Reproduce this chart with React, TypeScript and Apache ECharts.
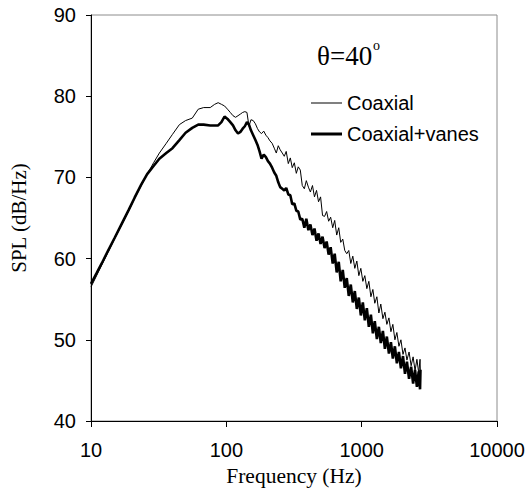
import React, { useEffect, useRef } from "react";
import * as echarts from "echarts";

const freq = [
  10, 11, 12, 13.3, 15, 17, 19, 21, 23.5, 26,
  29, 32, 36, 40, 45, 50, 56, 62, 68, 76,
  82, 87, 92, 97, 102, 107, 112, 117, 122, 127,
  132, 137, 142, 147, 152, 158, 164, 170, 176, 182,
  189, 196, 203, 210, 218, 226, 234, 242, 250, 259,
  268, 277, 287, 297, 307, 318, 329, 340, 352, 364,
  377, 390, 404, 418, 433, 448, 464, 480, 497, 514,
  532, 551, 570, 590, 611, 632, 654, 677, 700, 725,
  750, 776, 803, 831, 860, 890, 921, 953, 986, 1020,
  1055, 1092, 1130, 1170, 1210, 1250, 1295, 1340, 1385, 1435,
  1485, 1535, 1590, 1645, 1700, 1760, 1820, 1885, 1950, 2020,
  2090, 2160, 2240, 2320, 2400, 2480, 2560, 2640, 2700, 2720,
];

const coaxial = [
  56.5, 57.9, 59.2, 60.7, 62.5, 64.3, 65.9, 67.4, 69.0, 70.4,
  71.8, 73.0, 74.2, 75.3, 76.5, 77.0, 77.3, 78.4, 78.6, 78.6,
  79.0, 79.2, 79.0, 78.8, 78.4, 78.0, 77.6, 77.4, 77.6, 77.8,
  78.0, 78.1, 78.0, 76.3, 77.1, 77.0, 76.6, 76.0, 75.6, 75.4,
  75.7, 75.2, 74.9, 74.5, 74.2, 73.6, 73.0, 73.9, 73.4, 73.0,
  72.6, 73.2, 71.7, 72.4, 71.2, 71.8, 70.5, 71.3, 70.9, 69.0,
  68.6, 69.6, 68.8, 68.2, 69.0, 67.6, 68.4, 67.0, 67.6, 65.3,
  65.2, 65.8, 64.6, 65.1, 63.8, 64.7, 62.9, 63.8, 62.0, 62.4,
  61.0, 60.6, 61.0, 59.4, 60.3, 58.8, 59.7, 57.9, 58.8, 57.2,
  57.9, 56.3, 57.2, 55.3, 56.2, 54.5, 55.3, 53.3, 54.4, 52.6,
  53.4, 51.9, 52.7, 51.0, 51.9, 50.0, 50.9, 49.2, 50.0, 48.2,
  49.0, 47.5, 48.5, 46.8, 47.9, 46.2, 47.6, 45.9, 47.6, 45.6,
];

const coaxialVanes = [
  56.9, 58.2, 59.4, 60.9, 62.6, 64.4, 66.0, 67.5, 69.1, 70.4,
  71.4, 72.3, 73.0, 73.6, 74.6, 75.5, 76.1, 76.5, 76.5, 76.4,
  76.4, 76.4, 76.8, 77.5, 77.2, 76.8, 76.4, 75.8, 75.4, 75.6,
  76.0, 76.3, 76.8, 76.5, 75.8, 75.2, 74.6, 74.0, 73.2, 72.3,
  72.8, 72.5, 72.0, 71.7, 71.2, 70.6, 70.2, 69.4, 68.8, 68.6,
  68.4, 68.7, 67.9, 67.8, 66.7, 66.8, 65.9, 65.8, 64.8, 64.9,
  63.8, 64.9, 63.5, 64.2, 62.9, 63.7, 62.2, 63.1, 61.8, 62.7,
  61.3, 62.1, 60.5, 61.4, 59.4, 60.6, 58.3, 59.6, 57.2, 58.6,
  56.4, 57.6, 55.4, 56.8, 54.6, 56.0, 53.8, 55.2, 53.0, 54.6,
  52.4, 53.9, 51.6, 53.1, 50.8, 52.3, 50.1, 51.6, 49.6, 51.1,
  48.9, 50.4, 48.3, 49.7, 47.7, 49.2, 47.1, 48.5, 46.5, 48.0,
  45.8, 47.3, 45.2, 46.7, 44.6, 46.3, 44.2, 46.1, 43.9, 46.3,
];

const seriesNames = ["Coaxial", "Coaxial+vanes"];
const xTitle = "Frequency (Hz)";
const yTitle = "SPL (dB/Hz)";
const annotation = "θ=40";
const annotationSup = "o";

const SANS = "'Liberation Sans', Arial, sans-serif";
const SERIF = "'Liberation Serif', 'Times New Roman', serif";

export default function App() {
  const ref = useRef<HTMLDivElement>(null);
  useEffect(() => {
    if (!ref.current) return;
    const chart = echarts.init(ref.current, undefined, { renderer: "svg" });
    const legendText = { fontFamily: SANS, fontSize: 20, color: "#000000" };
    chart.setOption({
      animation: false,
      backgroundColor: "#ffffff",
      grid: {
        left: 83,
        top: 15,
        right: 31,
        bottom: 77,
        show: true,
        borderColor: "#8c8c8c",
        borderWidth: 1,
      },
      legend: [
        {
          data: [seriesNames[0]],
          left: 311,
          top: 93,
          padding: 0,
          icon: "rect",
          itemWidth: 31,
          itemHeight: 1,
          textStyle: legendText,
        },
        {
          data: [seriesNames[1]],
          left: 311,
          top: 124,
          padding: 0,
          icon: "rect",
          itemWidth: 31,
          itemHeight: 3,
          textStyle: legendText,
        },
      ],
      graphic: [
        {
          type: "text",
          left: 317,
          top: 42,
          style: { text: annotation, font: `27px ${SERIF}`, fill: "#000000" },
        },
        {
          type: "text",
          left: 373,
          top: 38,
          style: { text: annotationSup, font: `14px ${SERIF}`, fill: "#000000" },
        },
      ],
      xAxis: {
        type: "log",
        logBase: 10,
        min: 10,
        max: 10000,
        name: xTitle,
        nameLocation: "middle",
        nameGap: 36,
        nameTextStyle: { fontFamily: SERIF, fontSize: 21.5, color: "#000000" },
        axisLine: { show: true, lineStyle: { color: "#000000", width: 1 } },
        axisTick: { show: true, inside: false, length: 6, lineStyle: { color: "#000000" } },
        minorTick: { show: false },
        splitLine: { show: false },
        axisLabel: {
          fontFamily: SANS,
          fontSize: 20,
          color: "#000000",
          margin: 19,
          formatter: (v: number) => String(Math.round(v)),
        },
      },
      yAxis: {
        type: "value",
        min: 40,
        max: 90,
        interval: 10,
        name: yTitle,
        nameLocation: "middle",
        nameGap: 62,
        nameTextStyle: { fontFamily: SERIF, fontSize: 21, color: "#000000" },
        axisLine: { show: true, lineStyle: { color: "#000000", width: 1 } },
        axisTick: { show: true, inside: false, length: 5, lineStyle: { color: "#000000" } },
        splitLine: { show: false },
        axisLabel: { fontFamily: SANS, fontSize: 20, color: "#000000", margin: 15 },
      },
      series: [
        {
          name: seriesNames[0],
          type: "line",
          data: freq.map((f, i) => [f, coaxial[i]]),
          showSymbol: false,
          symbol: "none",
          lineStyle: { color: "#000000", width: 1 },
          itemStyle: { color: "#000000" },
          z: 3,
        },
        {
          name: seriesNames[1],
          type: "line",
          data: freq.map((f, i) => [f, coaxialVanes[i]]),
          showSymbol: false,
          symbol: "none",
          lineStyle: { color: "#000000", width: 2.6 },
          itemStyle: { color: "#000000" },
          z: 2,
        },
      ],
    });
    return () => chart.dispose();
  }, []);
  return (
    <div style={{ position: "fixed", left: 0, top: 0, width: 528, height: 498, background: "#fff" }}>
      <div ref={ref} style={{ width: 528, height: 498 }} />
    </div>
  );
}
